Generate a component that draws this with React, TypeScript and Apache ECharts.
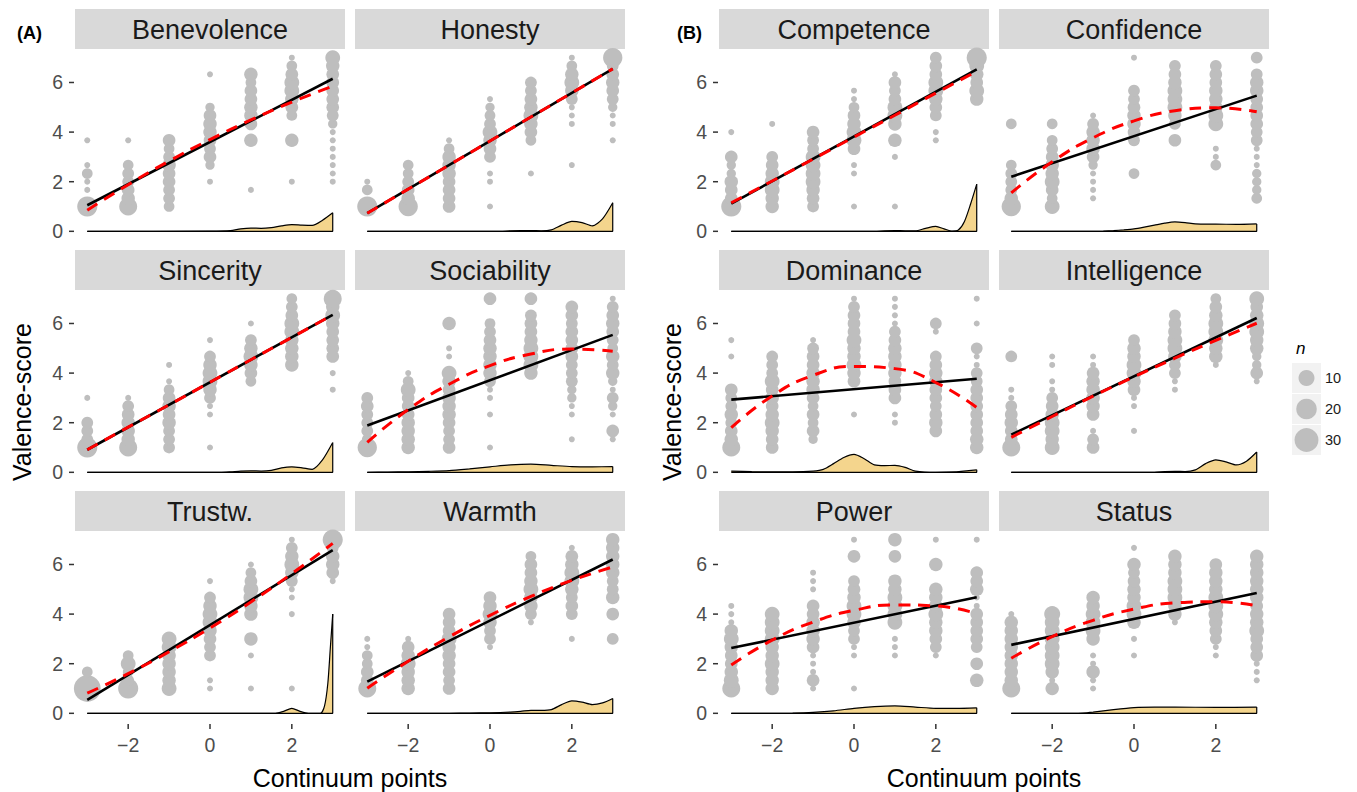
import React, { useEffect, useRef } from "react";
import * as echarts from "echarts";

const FONT = "'Liberation Sans', Arial, Helvetica, sans-serif";

const panelNames = [
  "Benevolence", "Honesty", "Sincerity", "Sociability", "Trustw.", "Warmth",
  "Competence", "Confidence", "Dominance", "Intelligence", "Power", "Status",
];
const xLevels = [-3, -2, -1, 0, 1, 2, 3];
const xTicks = [-2, 0, 2];
const yTicks = [0, 2, 4, 6];
const legendN = [10, 20, 30];
const groupLabels = ["(A)", "(B)"];
const xTitle = "Continuum points";
const yTitle = "Valence-score";
const sizeTitle = "n";

// points per panel: 7 columns (x = -3..3), each a list of [valence, n]
const ptsBenevolence = [
  [[1, 19], [1.67, 1], [2, 1], [2.33, 3], [2.67, 1], [3.67, 1]],
  [[1, 14], [1.33, 6], [1.67, 5], [2, 4], [2.33, 4], [2.67, 3], [3.67, 1]],
  [[1, 3], [1.33, 4], [1.67, 4], [2, 5], [2.33, 5], [2.67, 6], [3, 4], [3.33, 3], [3.67, 5]],
  [[2, 1], [2.67, 2], [3, 5], [3.33, 4], [3.67, 5], [4, 6], [4.33, 6], [4.67, 5], [5, 2], [6.33, 1]],
  [[1.67, 1], [3.67, 6], [4.33, 5], [4.67, 6], [5, 6], [5.33, 5], [5.67, 5], [6, 3], [6.33, 6]],
  [[2, 1], [3.67, 6], [4.67, 3], [5, 5], [5.33, 6], [5.67, 8], [6, 8], [6.33, 5], [6.67, 3], [7, 1]],
  [[2, 1], [2.33, 1], [2.67, 1], [3, 1], [3.33, 1], [3.67, 1], [4, 1], [4.33, 2], [4.67, 4], [5, 5], [5.33, 5], [5.67, 5], [6, 5], [6.33, 5], [6.67, 6], [7, 8]],
];
const ptsHonesty = [
  [[1, 19], [1.67, 3], [2, 1]],
  [[1, 17], [1.33, 6], [1.67, 5], [2, 4], [2.33, 3], [2.67, 3]],
  [[1, 5], [1.33, 5], [1.67, 5], [2, 5], [2.33, 6], [2.67, 6], [3, 6], [3.33, 3], [3.67, 1]],
  [[1, 1], [2, 1], [2.33, 1], [3, 4], [3.33, 5], [3.67, 6], [4, 8], [4.33, 4], [4.67, 3], [5, 2], [5.33, 1]],
  [[2.33, 1], [3.67, 3], [4, 5], [4.33, 6], [4.67, 8], [5, 6], [5.33, 5], [5.67, 4], [6, 4]],
  [[2.67, 1], [4.33, 1], [4.67, 1], [5, 1], [5.33, 4], [5.67, 6], [6, 8], [6.33, 6], [6.67, 3], [7, 1]],
  [[3.67, 1], [4.33, 1], [4.67, 1], [5, 2], [5.33, 4], [5.67, 5], [6, 6], [6.33, 5], [6.67, 4], [7, 17]],
];
const ptsSincerity = [
  [[1, 19], [1.33, 4], [1.67, 4], [2, 4], [3, 1]],
  [[1, 14], [1.33, 6], [1.67, 6], [2, 6], [2.33, 5], [2.67, 4], [3, 1]],
  [[1, 4], [1.33, 4], [1.67, 4], [2, 6], [2.33, 5], [2.67, 6], [3, 5], [3.33, 3], [3.67, 1], [4.33, 1]],
  [[1, 1], [2.33, 1], [2.67, 1], [3, 4], [3.33, 6], [3.67, 8], [4, 8], [4.33, 6], [4.67, 4], [5.33, 1]],
  [[3.67, 3], [4, 5], [4.33, 6], [4.67, 8], [5, 6], [5.33, 4], [6, 1]],
  [[4.33, 6], [4.67, 6], [5, 6], [5.33, 6], [5.67, 8], [6, 8], [6.33, 5], [6.67, 4], [7, 3]],
  [[3.33, 1], [4, 1], [4.67, 5], [5, 5], [5.33, 5], [5.67, 5], [6, 6], [6.33, 8], [6.67, 6], [7, 14]],
];
const ptsSociability = [
  [[1, 17], [1.33, 3], [1.67, 4], [2, 4], [2.33, 4], [2.67, 5], [3, 4]],
  [[1, 6], [1.33, 6], [1.67, 6], [2, 6], [2.33, 5], [2.67, 5], [3, 5], [3.33, 8], [3.67, 3], [4, 1]],
  [[1, 5], [1.33, 4], [1.67, 4], [2, 5], [2.33, 6], [2.67, 6], [3, 6], [3.33, 5], [3.67, 6], [4, 8], [4.67, 1], [5, 1], [6, 6]],
  [[1, 1], [2.33, 1], [3, 1], [3.33, 1], [3.67, 4], [4, 6], [4.33, 6], [4.67, 6], [5, 6], [5.33, 5], [5.67, 4], [6, 3], [7, 5]],
  [[4, 6], [4.33, 8], [4.67, 8], [5, 8], [5.33, 6], [5.67, 5], [6, 5], [6.33, 4], [7, 5]],
  [[1.33, 1], [2.33, 1], [2.67, 1], [3, 2], [3.33, 2], [3.67, 4], [4, 4], [4.33, 4], [4.67, 5], [5, 5], [5.33, 5], [5.67, 5], [6, 4], [6.33, 5], [6.67, 5]],
  [[1.33, 1], [1.67, 5], [2.33, 1], [2.67, 2], [3, 4], [3.33, 1], [3.67, 2], [4, 6], [4.33, 4], [4.67, 6], [5, 3], [5.33, 4], [5.67, 5], [6, 6], [6.33, 5], [6.67, 4], [7, 1]],
];
const ptsTrustw = [
  [[1, 40], [1.67, 3]],
  [[1, 19], [1.33, 4], [1.67, 3], [2, 8], [2.33, 3]],
  [[1, 8], [1.33, 6], [1.67, 6], [2, 6], [2.33, 6], [2.67, 8], [3, 8]],
  [[1, 1], [1.33, 1], [2.33, 4], [2.67, 4], [3, 5], [3.33, 6], [3.67, 8], [4, 8], [4.33, 6], [4.67, 4], [5.33, 1]],
  [[1, 1], [2.33, 1], [3, 6], [4, 6], [4.33, 6], [4.67, 8], [5, 8], [5.33, 5], [5.67, 3], [6, 1]],
  [[1, 1], [4, 1], [4.67, 1], [5, 1], [5.33, 4], [5.67, 6], [6, 8], [6.33, 6], [6.67, 4], [7, 1]],
  [[5.33, 1], [5.67, 5], [6, 6], [6.33, 6], [6.67, 4], [7, 19]],
];
const ptsWarmth = [
  [[1, 14], [1.33, 5], [1.67, 5], [2, 3], [2.33, 3], [2.67, 1], [3, 1]],
  [[1, 6], [1.33, 6], [1.67, 6], [2, 8], [2.33, 6], [2.67, 5], [3, 1]],
  [[1, 5], [1.33, 4], [1.67, 5], [2, 5], [2.33, 6], [2.67, 6], [3, 8], [3.33, 5], [3.67, 5], [4, 5]],
  [[2.67, 1], [3, 4], [3.33, 4], [3.67, 6], [4, 8], [4.33, 6], [4.67, 5]],
  [[3.67, 1], [4, 4], [4.33, 6], [4.67, 6], [5, 8], [5.33, 6], [5.67, 5], [6, 5], [6.33, 3]],
  [[3, 1], [4, 4], [4.33, 5], [4.67, 4], [5, 6], [5.33, 8], [5.67, 8], [6, 6], [6.33, 5], [6.67, 1]],
  [[3, 4], [4, 5], [4.67, 6], [5, 4], [5.33, 4], [5.67, 6], [6, 6], [6.33, 6], [6.67, 6], [7, 6]],
];
const ptsCompetence = [
  [[1, 19], [1.33, 5], [1.67, 5], [2, 6], [2.33, 2], [2.67, 2], [3, 5], [4, 1]],
  [[1, 6], [1.33, 6], [1.67, 8], [2, 8], [2.33, 6], [2.67, 5], [3, 4], [4.33, 1]],
  [[1, 4], [1.33, 5], [1.67, 6], [2, 8], [2.33, 8], [2.67, 8], [3, 8], [3.33, 4], [3.67, 4], [4, 5]],
  [[1, 1], [2.33, 1], [2.67, 1], [3.33, 5], [3.67, 8], [4, 8], [4.33, 6], [4.67, 5], [5, 3], [5.33, 1], [5.67, 1]],
  [[1, 1], [3, 1], [3.67, 6], [4.33, 6], [4.67, 8], [5, 8], [5.33, 5], [5.67, 4], [6, 5], [6.33, 1]],
  [[3.67, 1], [4, 1], [4.67, 4], [5, 5], [5.33, 6], [5.67, 8], [6, 8], [6.33, 5], [6.67, 5], [7, 4]],
  [[5.33, 6], [5.67, 8], [6, 5], [6.33, 6], [6.67, 8], [7, 19]],
];
const ptsConfidence = [
  [[1, 17], [1.33, 6], [1.67, 4], [2, 4], [2.33, 4], [2.67, 3], [4.33, 3]],
  [[1, 8], [1.33, 3], [1.67, 5], [2, 8], [2.33, 6], [2.67, 6], [3, 5], [3.33, 4], [3.67, 3], [4.33, 3]],
  [[1.33, 1], [1.67, 1], [2, 1], [2.33, 1], [2.67, 2], [3, 5], [3.33, 6], [3.67, 6], [4, 6], [4.33, 4], [4.67, 1]],
  [[2.33, 3], [3.67, 4], [4, 5], [4.33, 6], [4.67, 6], [5, 5], [5.33, 4], [5.67, 4], [7, 1]],
  [[3.67, 5], [4.33, 4], [4.67, 6], [5, 8], [5.33, 8], [5.67, 8], [6, 6], [6.33, 5], [6.67, 4]],
  [[2.67, 3], [3, 1], [3.33, 1], [4.33, 8], [4.67, 8], [5, 6], [5.33, 6], [5.67, 6], [6, 5], [6.33, 5], [6.67, 4]],
  [[1.33, 3], [1.67, 2], [2, 2], [2.33, 2], [2.67, 1], [3, 1], [3.33, 1], [3.67, 4], [4, 4], [4.33, 5], [4.67, 5], [5, 5], [5.33, 5], [5.67, 6], [6, 6], [6.33, 4], [7, 4]],
];
const ptsDominance = [
  [[1, 14], [1.33, 6], [1.67, 5], [2, 4], [2.33, 6], [2.67, 4], [3, 4], [3.33, 5], [4.67, 1], [5.33, 1]],
  [[1, 5], [1.33, 5], [1.67, 6], [2, 8], [2.33, 6], [2.67, 5], [3, 6], [3.33, 5], [3.67, 8], [4, 4], [4.33, 4], [4.67, 4]],
  [[1.33, 2], [1.67, 5], [2, 3], [2.33, 5], [2.67, 3], [3, 5], [3.33, 6], [3.67, 6], [4, 6], [4.33, 5], [4.67, 5], [5, 4], [5.33, 1]],
  [[2.33, 1], [3.67, 5], [4, 6], [4.33, 8], [4.67, 6], [5, 6], [5.33, 8], [5.67, 5], [6, 5], [6.33, 5], [6.67, 4], [7, 1]],
  [[2, 1], [2.33, 1], [3, 5], [3.33, 5], [3.67, 5], [4, 6], [4.33, 6], [4.67, 6], [5, 6], [5.33, 5], [5.67, 4], [6, 1], [6.33, 1], [6.67, 1], [7, 1]],
  [[1.67, 5], [2, 6], [2.33, 5], [2.67, 4], [3, 5], [3.33, 5], [3.67, 6], [4, 6], [4.33, 5], [4.67, 4], [5.67, 1], [6, 4]],
  [[1, 6], [1.33, 6], [1.67, 5], [2, 5], [2.33, 5], [2.67, 5], [3, 5], [3.33, 5], [3.67, 4], [4, 4], [4.33, 1], [4.67, 1], [5, 4], [6, 1], [7, 1]],
];
const ptsIntelligence = [
  [[1, 14], [1.33, 5], [1.67, 5], [2, 6], [2.33, 5], [2.67, 4], [3, 1], [3.33, 1], [4.67, 4]],
  [[1, 8], [1.33, 6], [1.67, 8], [2, 8], [2.33, 6], [2.67, 5], [3, 4], [3.33, 1], [3.67, 1], [4.33, 1], [4.67, 1]],
  [[1, 5], [1.33, 4], [1.67, 1], [2.33, 5], [2.67, 6], [3, 6], [3.33, 6], [3.67, 6], [4, 5], [4.33, 1], [4.67, 1]],
  [[1.67, 1], [2.67, 1], [3, 1], [3.33, 5], [3.67, 6], [4, 8], [4.33, 8], [4.67, 6], [5, 6], [5.33, 4]],
  [[3.33, 1], [3.67, 1], [4, 4], [4.33, 4], [4.67, 6], [5, 8], [5.33, 8], [5.67, 6], [6, 5], [6.33, 4]],
  [[4.33, 1], [4.67, 6], [5, 6], [5.33, 8], [5.67, 8], [6, 8], [6.33, 6], [6.67, 5], [7, 3]],
  [[3.67, 1], [4, 5], [4.33, 2], [4.67, 2], [5, 6], [5.33, 6], [5.67, 8], [6, 8], [6.33, 6], [6.67, 5], [7, 8]],
];
const ptsPower = [
  [[1, 14], [1.33, 8], [1.67, 6], [2, 5], [2.33, 5], [2.67, 6], [3, 8], [3.33, 6], [3.67, 1], [4, 1], [4.33, 1]],
  [[1, 6], [1.33, 6], [1.67, 6], [2, 8], [2.33, 6], [2.67, 6], [3, 8], [3.33, 8], [3.67, 8], [4, 8]],
  [[1, 1], [1.33, 5], [1.67, 1], [2, 1], [2.33, 1], [2.67, 5], [3, 6], [3.33, 6], [3.67, 6], [4, 5], [4.33, 5], [5, 1], [5.33, 1], [5.67, 1]],
  [[1, 1], [2.33, 1], [2.67, 1], [3, 4], [3.33, 4], [3.67, 6], [4, 8], [4.33, 8], [4.67, 6], [5, 5], [5.33, 4], [6.33, 5], [7, 1]],
  [[2.33, 1], [2.67, 1], [3, 1], [3.67, 8], [4, 8], [4.33, 8], [4.67, 8], [5, 6], [5.33, 6], [6.33, 5], [7, 6]],
  [[2.33, 1], [2.67, 4], [3, 5], [3.33, 6], [3.67, 6], [4, 8], [4.33, 6], [4.67, 6], [5, 6], [6, 6], [7, 1]],
  [[1.33, 6], [2, 5], [2.67, 4], [3, 5], [3.33, 5], [3.67, 5], [4, 5], [4.33, 1], [4.67, 1], [5, 6], [5.33, 5], [5.67, 5], [7, 1]],
];
const ptsStatus = [
  [[1, 14], [1.33, 6], [1.67, 6], [2, 6], [2.33, 6], [2.67, 6], [3, 6], [3.33, 6], [3.67, 6], [4, 1]],
  [[1, 6], [1.33, 1], [1.67, 6], [2, 8], [2.33, 8], [2.67, 8], [3, 8], [3.33, 8], [3.67, 8], [4, 10]],
  [[1, 1], [1.33, 1], [1.67, 6], [2, 1], [2.33, 1], [3, 6], [3.33, 8], [3.67, 8], [4, 8], [4.33, 6], [4.67, 6]],
  [[2.33, 1], [3, 1], [3.67, 6], [4, 8], [4.33, 8], [4.67, 6], [5, 6], [5.33, 5], [5.67, 4], [6, 6], [6.67, 1]],
  [[3.67, 1], [4, 6], [4.33, 6], [4.67, 8], [5, 8], [5.33, 8], [5.67, 6], [6, 6], [6.33, 6]],
  [[2.33, 1], [2.67, 1], [3, 4], [3.33, 5], [3.67, 6], [4, 8], [4.33, 8], [4.67, 8], [5, 6], [5.33, 6], [5.67, 6], [6, 5]],
  [[1.33, 1], [1.67, 1], [2, 1], [2.33, 5], [2.67, 5], [3, 5], [3.33, 8], [3.67, 6], [4, 6], [4.33, 5], [4.67, 6], [5, 6], [5.33, 6], [5.67, 6], [6, 6], [6.33, 6]],
];
const panelPoints = [
  ptsBenevolence, ptsHonesty, ptsSincerity, ptsSociability, ptsTrustw, ptsWarmth,
  ptsCompetence, ptsConfidence, ptsDominance, ptsIntelligence, ptsPower, ptsStatus,
];

// linear fit: value at x = -3 and at x = 3
const linFitStart = [1.05, 0.73, 0.91, 1.89, 0.54, 1.28, 1.12, 2.2, 2.93, 1.52, 2.63, 2.76];
const linFitEnd = [6.15, 6.55, 6.35, 5.54, 6.58, 6.2, 6.53, 5.47, 3.77, 6.22, 4.68, 4.85];

// quadratic fit read at x = -3..3
const quadBenevolence = [0.85, 1.88, 2.83, 3.7, 4.49, 5.21, 5.85];
const quadHonesty = [0.73, 1.7, 2.67, 3.64, 4.61, 5.58, 6.55];
const quadSincerity = [0.91, 1.82, 2.72, 3.63, 4.54, 5.44, 6.35];
const quadSociability = [1.21, 2.53, 3.55, 4.3, 4.77, 4.97, 4.88];
const quadTrustw = [0.81, 1.6, 2.48, 3.44, 4.49, 5.63, 6.85];
const quadWarmth = [1.01, 2.1, 3.08, 3.95, 4.71, 5.36, 5.9];
const quadCompetence = [1.15, 2.03, 2.91, 3.8, 4.68, 5.57, 6.45];
const quadConfidence = [1.55, 2.8, 3.77, 4.45, 4.86, 4.98, 4.82];
const quadDominance = [1.8, 3.08, 3.91, 4.27, 4.18, 3.62, 2.61];
const quadIntelligence = [1.41, 2.25, 3.07, 3.85, 4.6, 5.32, 6.01];
const quadPower = [1.95, 2.95, 3.68, 4.15, 4.37, 4.33, 4.02];
const quadStatus = [2.22, 3.09, 3.75, 4.2, 4.45, 4.5, 4.34];
const panelQuad = [
  quadBenevolence, quadHonesty, quadSincerity, quadSociability, quadTrustw, quadWarmth,
  quadCompetence, quadConfidence, quadDominance, quadIntelligence, quadPower, quadStatus,
];

// density curves [x, density]
const densBenevolence = [[-3, 0], [0, 0.01], [0.5, 0.03], [0.75, 0.1], [1, 0.13], [1.25, 0.12], [1.5, 0.15], [1.75, 0.22], [2, 0.27], [2.25, 0.25], [2.5, 0.24], [2.75, 0.45], [3, 0.75]];
const densHonesty = [[-3, 0], [0.25, 0], [0.5, 0.02], [0.75, 0.03], [1, 0.03], [1.25, 0.02], [1.5, 0.06], [1.75, 0.25], [2, 0.4], [2.25, 0.35], [2.5, 0.22], [2.75, 0.5], [3, 1.15]];
const densSincerity = [[-3, 0], [0.25, 0], [0.5, 0.02], [0.75, 0.05], [1, 0.06], [1.25, 0.05], [1.5, 0.08], [1.75, 0.18], [2, 0.22], [2.25, 0.18], [2.5, 0.12], [2.75, 0.5], [3, 1.2]];
const densSociability = [[-3, 0], [-2.5, 0.01], [-2, 0.02], [-1.5, 0.04], [-1, 0.07], [-0.5, 0.14], [0, 0.22], [0.5, 0.3], [1, 0.33], [1.5, 0.28], [2, 0.23], [2.5, 0.22], [3, 0.23]];
const densTrustw = [[-3, 0], [1.6, 0], [1.8, 0.08], [2, 0.2], [2.2, 0.08], [2.4, 0], [2.7, 0], [2.8, 0.3], [2.88, 1.2], [2.94, 2.6], [3, 4.0]];
const densWarmth = [[-3, 0], [-1, 0], [-0.5, 0.01], [0, 0.02], [0.5, 0.05], [0.75, 0.08], [1, 0.12], [1.25, 0.12], [1.5, 0.15], [1.75, 0.35], [2, 0.5], [2.25, 0.45], [2.5, 0.35], [2.75, 0.42], [3, 0.6]];
const densCompetence = [[-3, 0], [0.5, 0], [0.75, 0.02], [1, 0.03], [1.25, 0.02], [1.5, 0.02], [1.75, 0.12], [2, 0.2], [2.2, 0.1], [2.4, 0.01], [2.55, 0.05], [2.7, 0.4], [2.85, 1.1], [3, 1.9]];
const densConfidence = [[-3, 0], [-1, 0], [-0.75, 0.01], [-0.5, 0.03], [-0.25, 0.06], [0, 0.1], [0.25, 0.17], [0.5, 0.25], [0.75, 0.33], [1, 0.38], [1.25, 0.35], [1.5, 0.3], [2, 0.29], [2.5, 0.28], [3, 0.3]];
const densDominance = [[-3, 0.05], [-2.5, 0.03], [-2, 0.02], [-1.5, 0.02], [-1, 0.05], [-0.75, 0.12], [-0.5, 0.35], [-0.25, 0.6], [0, 0.72], [0.25, 0.55], [0.5, 0.3], [0.75, 0.27], [1, 0.28], [1.25, 0.2], [1.5, 0.05], [2, 0], [2.5, 0.02], [2.75, 0.06], [3, 0.1]];
const densIntelligence = [[-3, 0], [0.5, 0], [0.75, 0.03], [1, 0.04], [1.25, 0.03], [1.5, 0.1], [1.75, 0.35], [2, 0.5], [2.25, 0.42], [2.5, 0.3], [2.75, 0.45], [3, 0.82]];
const densPower = [[-3, 0], [-2, 0], [-1.5, 0.01], [-1, 0.04], [-0.5, 0.1], [0, 0.2], [0.5, 0.27], [1, 0.3], [1.5, 0.25], [2, 0.2], [2.5, 0.2], [3, 0.22]];
const densStatus = [[-3, 0], [-1.5, 0], [-1.25, 0.01], [-1, 0.05], [-0.5, 0.15], [0, 0.23], [0.5, 0.25], [1, 0.25], [2, 0.24], [3, 0.25]];
const panelDens = [
  densBenevolence, densHonesty, densSincerity, densSociability, densTrustw, densWarmth,
  densCompetence, densConfidence, densDominance, densIntelligence, densPower, densStatus,
];

// layout
const groupColLeft = [[75, 355], [719, 999]];
const rowTop = [49, 290, 531];
const PW = 270;
const PH = 191;
const STRIP = 40;
const X_MIN = -3.3;
const X_MAX = 3.3;
const Y_MIN = -0.35;
const Y_MAX = 7.35;
const TICK_LEN = 5;

const sizeOf = (n: number) => 6 + 3.33 * Math.sqrt(Math.max(n - 1, 0));
const fmtMinus = (v: number) => (v < 0 ? "\u2212" + Math.abs(v) : String(v));

function panelPos(p: number) {
  const g = Math.floor(p / 6);
  const r = Math.floor((p % 6) / 2);
  const c = p % 2;
  return { g, r, c, left: groupColLeft[g][c], top: rowTop[r] };
}

function buildOption() {
  const grids: any[] = [];
  const xAxes: any[] = [];
  const yAxes: any[] = [];
  const series: any[] = [];
  const graphics: any[] = [];

  panelNames.forEach((name, p) => {
    const { r, c, left, top } = panelPos(p);
    grids.push({ left, top, width: PW, height: PH });
    const showX = r === 2;
    const showY = c === 0;
    xAxes.push({
      gridIndex: p, type: "value", min: X_MIN, max: X_MAX, position: "bottom",
      axisLine: { show: false, onZero: false }, splitLine: { show: false }, axisTick: { show: false },
      axisLabel: { show: showX, customValues: xTicks, formatter: fmtMinus, color: "#4d4d4d", fontSize: 19.5, fontFamily: FONT, margin: 13 },
    });
    yAxes.push({
      gridIndex: p, type: "value", min: Y_MIN, max: Y_MAX, position: "left",
      axisLine: { show: false, onZero: false }, splitLine: { show: false }, axisTick: { show: false },
      axisLabel: { show: showY, customValues: yTicks, color: "#4d4d4d", fontSize: 19.5, fontFamily: FONT, margin: 12 },
    });

    const pts: number[][] = [];
    panelPoints[p].forEach((col, k) => {
      col.forEach(([y, n]) => pts.push([xLevels[k], y, n]));
    });
    series.push({
      type: "scatter", xAxisIndex: p, yAxisIndex: p, data: pts,
      symbolSize: (v: number[]) => sizeOf(v[2]),
      itemStyle: { color: "#bebebe", opacity: 1 }, z: 1, silent: true,
    });
    const dens = panelDens[p];
    series.push({
      type: "line", xAxisIndex: p, yAxisIndex: p, data: dens, smooth: 0.25,
      symbol: "none", lineStyle: { color: "#000", width: 1.2 },
      areaStyle: { color: "#f4d58d", opacity: 1 }, z: 2, silent: true,
    });
    series.push({
      type: "line", xAxisIndex: p, yAxisIndex: p,
      data: [[-3, 0], [3, 0], [3, dens[dens.length - 1][1]]],
      symbol: "none", lineStyle: { color: "#000", width: 1.2 }, z: 3, silent: true,
    });
    series.push({
      type: "line", xAxisIndex: p, yAxisIndex: p,
      data: [[-3, linFitStart[p]], [3, linFitEnd[p]]],
      symbol: "none", lineStyle: { color: "#000", width: 2.6 }, z: 4, silent: true,
    });
    series.push({
      type: "line", xAxisIndex: p, yAxisIndex: p,
      data: xLevels.map((x, k) => [x, panelQuad[p][k]]), smooth: true,
      symbol: "none", lineStyle: { color: "#ff0000", width: 3, type: [12, 8] }, z: 5, silent: true,
    });

    // tick marks: axis decoration placed at the tick values along the panel edge
    if (showY) {
      yTicks.forEach((v) => {
        const py = top + (PH * (Y_MAX - v)) / (Y_MAX - Y_MIN);
        graphics.push({
          type: "rect", silent: true, z: 50,
          shape: { x: left - TICK_LEN - 1, y: py - 0.75, width: TICK_LEN, height: 1.5 },
          style: { fill: "#333333" },
        });
      });
    }
    if (showX) {
      xTicks.forEach((v) => {
        const px = left + (PW * (v - X_MIN)) / (X_MAX - X_MIN);
        graphics.push({
          type: "rect", silent: true, z: 50,
          shape: { x: px - 0.75, y: top + PH + 2, width: 1.5, height: TICK_LEN },
          style: { fill: "#333333" },
        });
      });
    }

    graphics.push({
      type: "rect", shape: { x: left, y: top - STRIP, width: PW, height: STRIP },
      style: { fill: "#d9d9d9" }, silent: true,
    });
    graphics.push({
      type: "text", x: left + PW / 2, y: top - STRIP / 2 + 1,
      style: { text: name, fill: "#1a1a1a", font: `27px ${FONT}`, align: "center", verticalAlign: "middle", textAlign: "center", textVerticalAlign: "middle" },
      silent: true,
    });
  });

  // group labels and axis titles
  [17, 677].forEach((x, g) => {
    graphics.push({
      type: "text", x, y: 33,
      style: { text: groupLabels[g], fill: "#000", font: `bold 18px ${FONT}`, align: "left", verticalAlign: "middle", textAlign: "left", textVerticalAlign: "middle" },
    });
  });
  [22, 672].forEach((x) => {
    graphics.push({
      type: "text", x, y: 402, rotation: Math.PI / 2,
      style: { text: yTitle, fill: "#000", font: `25px ${FONT}`, align: "center", verticalAlign: "middle", textAlign: "center", textVerticalAlign: "middle" },
    });
  });
  [350, 984].forEach((x) => {
    graphics.push({
      type: "text", x, y: 778,
      style: { text: xTitle, fill: "#000", font: `25px ${FONT}`, align: "center", verticalAlign: "middle", textAlign: "center", textVerticalAlign: "middle" },
    });
  });

  // size legend
  graphics.push({
    type: "text", x: 1296, y: 348,
    style: { text: sizeTitle, fill: "#000", font: `italic 17px ${FONT}`, align: "left", verticalAlign: "middle", textAlign: "left", textVerticalAlign: "middle" },
  });
  legendN.forEach((n, k) => {
    const ky = 363 + k * 31;
    graphics.push({ type: "rect", shape: { x: 1292, y: ky, width: 29, height: 30 }, style: { fill: "#f2f2f2" } });
    graphics.push({ type: "circle", shape: { cx: 1306.5, cy: ky + 15, r: sizeOf(n) / 2 }, style: { fill: "#bebebe" } });
    graphics.push({
      type: "text", x: 1325, y: ky + 15,
      style: { text: String(n), fill: "#1a1a1a", font: `14.5px ${FONT}`, align: "left", verticalAlign: "middle", textAlign: "left", textVerticalAlign: "middle" },
    });
  });

  return {
    animation: false,
    backgroundColor: "#ffffff",
    grid: grids,
    xAxis: xAxes,
    yAxis: yAxes,
    series,
    graphic: graphics,
  };
}

export default function App() {
  const ref = useRef<HTMLDivElement>(null);
  useEffect(() => {
    if (!ref.current) return;
    const chart = echarts.init(ref.current, undefined, { renderer: "svg" });
    chart.setOption(buildOption() as any);
    return () => chart.dispose();
  }, []);
  return (
    <div
      ref={ref}
      style={{ position: "fixed", left: 0, top: 0, width: 1357, height: 792, background: "#fff" }}
    />
  );
}
